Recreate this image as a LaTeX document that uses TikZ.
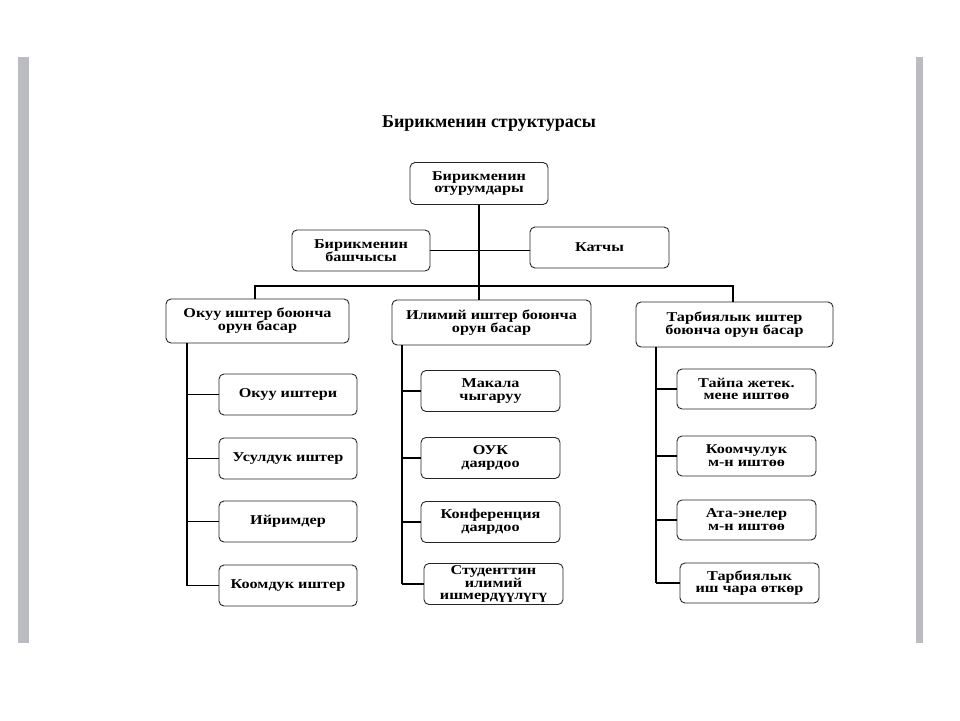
\documentclass[tikz,border=0pt]{standalone}
\usepackage{fontspec}
\setmainfont{Liberation Serif}
\newfontfamily\boxfont[FakeStretch=1.2]{Liberation Serif}
\usetikzlibrary{positioning,calc}
\definecolor{barGray}{RGB}{186,188,194}

\begin{document}
\begin{tikzpicture}[x=1pt,y=-1pt,
  unit/.style={draw=black!85,line width=0.9pt,rounded corners=5pt,align=center,inner sep=1pt,
    font=\boxfont\bfseries\fontsize{13.5}{12.8}\selectfont,minimum width=139pt,minimum height=41pt},
  link/.style={line width=1.8pt}]
  \useasboundingbox (0,0) rectangle (960,720);
  \fill[barGray] (18,57) rectangle (29,643);
  \fill[barGray] (916,57) rectangle (923,643);
  \node[font=\bfseries\fontsize{18}{20}\selectfont,anchor=base] (title) at (489,127) {Бирикменин структурасы};

  \node[unit,minimum width=138pt,minimum height=42pt] (sit) at (479,183.5) {Бирикменин\\отурумдары};
  \node[unit,minimum width=138pt] (head) at (361,250.5) {Бирикменин\\башчысы};
  \node[unit] (sec) at (599.5,247.5) {Катчы};
  \node[unit,minimum width=183pt,minimum height=44pt] (edu) at (257.5,321) {Окуу иштер боюнча\\орун басар};
  \node[unit,minimum width=199pt,minimum height=45pt] (sci) at (491.5,322.5) {Илимий иштер боюнча\\орун басар};
  \node[unit,minimum width=197pt,minimum height=45pt] (upb) at (734.5,324.5) {Тарбиялык иштер\\боюнча орун басар};

  \foreach \x/\y/\txt [count=\i] in {288/394.5/{Окуу иштери},288/458.5/{Усулдук иштер},288/521.5/{Ийримдер},288/585.5/{Коомдук иштер}}
    \node[unit,minimum width=138pt] (e\i) at (\x,\y) {\txt};
  \foreach \x/\y/\txt [count=\i] in {490.5/391/{Макала\\чыгаруу},490.5/458/{ОУК\\даярдоо},490.5/522/{Конференция\\даярдоо},493.5/584/{Студенттин\\илимий\\ишмердүүлүгү}}
    \node[unit] (m\i) at (\x,\y) {\txt};
  \foreach \x/\y/\txt [count=\i] in {746.5/389/{Тайпа жетек.\\мене иштөө},746.5/456/{Коомчулук\\м-н иштөө},746.5/520/{Ата-энелер\\м-н иштөө},749.5/583/{Тарбиялык\\иш чара өткөр}}
    \node[unit,minimum height=40pt] (t\i) at (\x,\y) {\txt};

  \coordinate (busL) at (255,286);
  \coordinate (busR) at (733,286);
  \draw[link] (sit) -- (sit |- busL);
  \draw[link] (head.east) -- (head.east -| sec.west);
  \draw[link] (busL |- edu.north) -- (busL) -- (busR) -- (busR |- upb.north);
  \draw[link] (sit |- busL) -- (sit |- sci.north);

  \foreach \p/\c/\sx in {edu/e/187,sci/m/402,upb/t/656} {
    \coordinate (\c0) at (\sx,0);
    \draw[link] (\c0 |- \p.south) -- (\c0 |- \c4.west);
    \foreach \k in {1,...,4}
      \draw[link] (\c0 |- \c\k.west) -- (\c\k.west);
  }
\end{tikzpicture}
\end{document}
